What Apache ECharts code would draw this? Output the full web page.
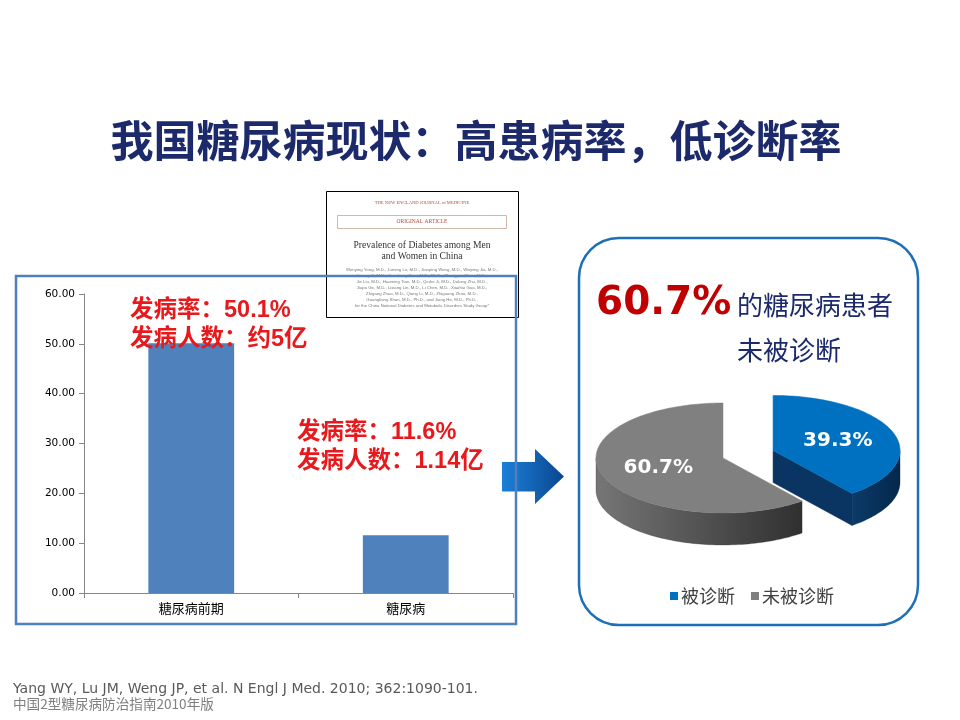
<!DOCTYPE html>
<html><head><meta charset="utf-8">
<script src="https://cdn.jsdelivr.net/npm/echarts@6/dist/echarts.min.js"></script>
<style>html,body{margin:0;padding:0;background:#fff;}#c{width:960px;height:720px;}</style>
</head><body><div id="c"></div>
<script>
// ---------- data ----------
const titleText = '我国糖尿病现状：高患病率，低诊断率';
const barCategories = ['糖尿病前期', '糖尿病'];
const barValues = [50.1, 11.6];
const barPeople = ['约5亿', '1.14亿'];
const yMin = 0, yMax = 60, yStep = 10;
const pieNames = ['被诊断', '未被诊断'];
const pieValues = [39.3, 60.7];
const pieExploded = [1, 0];
const pieHeadLines = ['的糖尿病患者', '未被诊断'];
const refLines = ['Yang WY, Lu JM, Weng JP, et al. N Engl J Med. 2010; 362:1090-101.', '中国2型糖尿病防治指南2010年版'];
const articleHeader = 'THE NEW ENGLAND JOURNAL of MEDICINE';
const articleType = 'ORIGINAL ARTICLE';
const articleTitle = ['Prevalence of Diabetes among Men', 'and Women in China'];
const articleAuthors = [
  'Wenying Yang, M.D., Juming Lu, M.D., Jianping Weng, M.D., Weiping Jia, M.D.,',
  'Linong Ji, M.D., Jianzhong Xiao, M.D., Ph.D., Zhongyan Shan, M.D.,',
  'Jie Liu, M.D., Haoming Tian, M.D., Qiuhe Ji, M.D., Dalong Zhu, M.D.,',
  'Jiapu Ge, M.D., Lixiang Lin, M.D., Li Chen, M.D., Xiaohui Guo, M.D.,',
  'Zhigang Zhao, M.D., Qiang Li, M.D., Zhiguang Zhou, M.D.,',
  'Guangliang Shan, M.D., Ph.D., and Jiang He, M.D., Ph.D.,',
  'for the China National Diabetes and Metabolic Disorders Study Group*'
];

// ---------- styles / layout ----------
const CJK = "'Noto Sans CJK SC'";
const MIX = "'Liberation Sans','Noto Sans CJK SC'";
const NAVY = '#1C2A6B';
const RED = '#E8191C';
const pieColors = ['#0070C0', '#808080'];
const pieWall = [['#0b3a68', '#05284c'], ['#767676', '#303030']];
const pieCut = ['#0a3562', '#555555'];
const PIE = {cx: 723, cy: 458, rx: 127, ry: 55, depth: 32, explode: 53, labelR: 0.54};

const pieTotal = pieValues.reduce((a, b) => a + b, 0);
const pieStarts = pieValues.map((v, i) => pieValues.slice(0, i).reduce((a, b) => a + b, 0));

function pieRenderItem(params, api) {
  const idx = params.seriesIndex - 1;
  const start = api.value(0), val = api.value(1), tot = api.value(2), exp = api.value(3);
  const sweep = val / tot * Math.PI * 2;
  const a0 = Math.PI / 2 - start / tot * Math.PI * 2;
  const a1 = a0 - sweep;
  const mid = (a0 + a1) / 2;
  let cx = PIE.cx, cy = PIE.cy;
  if (exp) {
    cx += PIE.explode * Math.cos(mid);
    cy -= PIE.explode * Math.sin(mid) * PIE.ry / PIE.rx;
  }
  const P = a => [cx + PIE.rx * Math.cos(a), cy - PIE.ry * Math.sin(a)];
  const D = p => [p[0], p[1] + PIE.depth];
  const N = Math.max(8, Math.ceil(sweep / (Math.PI / 120)));
  let angs = [];
  for (let k = 0; k <= N; k++) angs.push(a0 - sweep * k / N);
  for (let m = Math.ceil(a1 / Math.PI); m * Math.PI <= a0; m++) angs.push(m * Math.PI);
  angs.sort((x, y) => y - x);
  const color = api.visual('color');
  const children = [];
  // radial cut faces that face the viewer
  [[a0, a0 + Math.PI / 2], [a1, a1 - Math.PI / 2]].forEach(([a, n]) => {
    if (Math.sin(n) < -1e-6) {
      const p = P(a);
      children.push({type: 'polygon', shape: {points: [[cx, cy], p, D(p), [cx, cy + PIE.depth]]},
        style: {fill: pieCut[idx], stroke: pieCut[idx], lineWidth: 0.5}});
    }
  });
  // outer front wall
  let run = [];
  const flush = () => {
    if (run.length > 1) {
      const top = run.map(P);
      const bot = run.map(a => D(P(a))).reverse();
      children.push({type: 'polygon', shape: {points: top.concat(bot)},
        style: {fill: new echarts.graphic.LinearGradient(0, 0, 1, 0, [
          {offset: 0, color: pieWall[idx][0]}, {offset: 1, color: pieWall[idx][1]}]),
          stroke: pieWall[idx][1], lineWidth: 0.3}});
    }
    run = [];
  };
  angs.forEach(a => { if (Math.sin(a) <= 1e-9) run.push(a); else flush(); });
  flush();
  // top face
  children.push({type: 'polygon', shape: {points: [[cx, cy]].concat(angs.map(P))},
    style: {fill: color, stroke: color, lineWidth: 0.5}});
  // label
  children.push({type: 'text', style: {
    text: val.toFixed(1) + '%',
    x: cx + PIE.rx * PIE.labelR * Math.cos(mid),
    y: cy - PIE.ry * PIE.labelR * Math.sin(mid),
    fill: '#ffffff', font: "bold 20px 'DejaVu Sans'",
    align: 'center', verticalAlign: 'middle', textAlign: 'center', textVerticalAlign: 'middle'}});
  return {type: 'group', children: children};
}

function txt(x, y, text, font, fill, align, extra) {
  return Object.assign({type: 'text', x: x, y: y, style: {
    text: text, font: font, fill: fill,
    align: align || 'left', textAlign: align || 'left',
    verticalAlign: 'middle', textVerticalAlign: 'middle'}}, extra || {});
}

const graphics = [];
graphics.push(txt(476, 141, titleText, 'bold 43px ' + CJK, NAVY, 'center'));

// article thumbnail
const art = [];
art.push({type: 'rect', shape: {x: 326.5, y: 191.5, width: 192, height: 126}, style: {fill: '#fff', stroke: '#000', lineWidth: 1}});
art.push(txt(422, 202.5, articleHeader, "4.6px 'Liberation Serif'", '#b04a3a', 'center'));
art.push({type: 'rect', shape: {x: 337.5, y: 215.5, width: 169, height: 13}, style: {fill: '#fff', stroke: '#c9a596', lineWidth: 0.8}});
art.push(txt(422, 222, articleType, "5.5px 'Liberation Serif'", '#b04a3a', 'center'));
articleTitle.forEach((t, i) => art.push(txt(422, 245 + i * 11.7, t, "9.6px 'Liberation Serif'", '#333', 'center')));
articleAuthors.forEach((t, i) => art.push(txt(422, 270 + i * 6, t, "4.3px 'Liberation Sans'", '#777', 'center')));
graphics.push({type: 'group', z: 3, children: art});

// bar chart frame
graphics.push({type: 'rect', z: 20, shape: {x: 16, y: 276, width: 500, height: 348}, style: {fill: 'none', stroke: '#4F7FBD', lineWidth: 2.5}});

// bar annotations
const annPos = [[130, 311], [297, 433]];
barValues.forEach((v, i) => {
  graphics.push(txt(annPos[i][0], annPos[i][1], '发病率：' + v.toFixed(1) + '%', 'bold 23.5px ' + MIX, RED, 'left', {z: 15}));
  graphics.push(txt(annPos[i][0], annPos[i][1] + 29, '发病人数：' + barPeople[i], 'bold 23.5px ' + MIX, RED, 'left', {z: 15}));
});

// arrow
graphics.push({type: 'polygon', z: 12, shape: {points: [[502, 462], [535, 462], [535, 449], [564, 476.5], [535, 504], [535, 491.5], [502, 491.5]]},
  style: {fill: new echarts.graphic.LinearGradient(0, 0, 1, 0, [{offset: 0, color: '#1c80d8'}, {offset: 1, color: '#0a4690'}])}});

// right panel
graphics.push({type: 'rect', z: 1, shape: {x: 579, y: 238, width: 339, height: 387, r: 40}, style: {fill: '#fff', stroke: '#1E6FB8', lineWidth: 2.5}});
graphics.push(txt(596, 304, pieValues[1].toFixed(1) + '%', "bold 39px 'DejaVu Sans'", '#C00000', 'left', {z: 5}));
graphics.push(txt(737, 305, pieHeadLines[0], '26px ' + CJK, NAVY, 'left', {z: 5}));
graphics.push(txt(737, 350, pieHeadLines[1], '26px ' + CJK, NAVY, 'left', {z: 5}));

// references
graphics.push(txt(13, 689, refLines[0], "14px 'DejaVu Sans'", '#595959'));
graphics.push(txt(13, 704, refLines[1], '13.6px ' + CJK, '#7f7f7f'));

const option = {
  animation: false,
  grid: {left: 84, top: 294, width: 429, height: 299},
  xAxis: {
    type: 'category', data: barCategories,
    axisLine: {lineStyle: {color: '#868686', width: 1}},
    axisTick: {show: true, length: 5, lineStyle: {color: '#868686'}},
    axisLabel: {color: '#000', fontSize: 13, fontFamily: CJK, margin: 9}
  },
  yAxis: {
    type: 'value', min: yMin, max: yMax, interval: yStep,
    axisLine: {show: true, lineStyle: {color: '#868686', width: 1}},
    axisTick: {show: true, length: 5, lineStyle: {color: '#868686'}},
    splitLine: {show: false},
    axisLabel: {color: '#000', fontSize: 10.5, fontFamily: 'DejaVu Sans', margin: 9, formatter: v => v.toFixed(2)}
  },
  legend: {
    data: pieNames, left: 665, top: 582, icon: 'rect', itemWidth: 8, itemHeight: 8, itemGap: 16,
    textStyle: {fontSize: 18, color: '#404040', fontFamily: CJK, padding: [0, 0, 0, -2]},
    selectedMode: false
  },
  graphic: {elements: graphics},
  series: [
    {type: 'bar', data: barValues, barWidth: '40%', itemStyle: {color: '#4F81BD'}, silent: true}
  ].concat(pieNames.map((n, i) => ({
    type: 'custom', name: n, coordinateSystem: 'none', silent: true, z: 6,
    itemStyle: {color: pieColors[i]},
    renderItem: pieRenderItem,
    data: [[pieStarts[i], pieValues[i], pieTotal, pieExploded[i]]]
  })))
};
const chart = echarts.init(document.getElementById('c'));
chart.setOption(option);
</script></body></html>
